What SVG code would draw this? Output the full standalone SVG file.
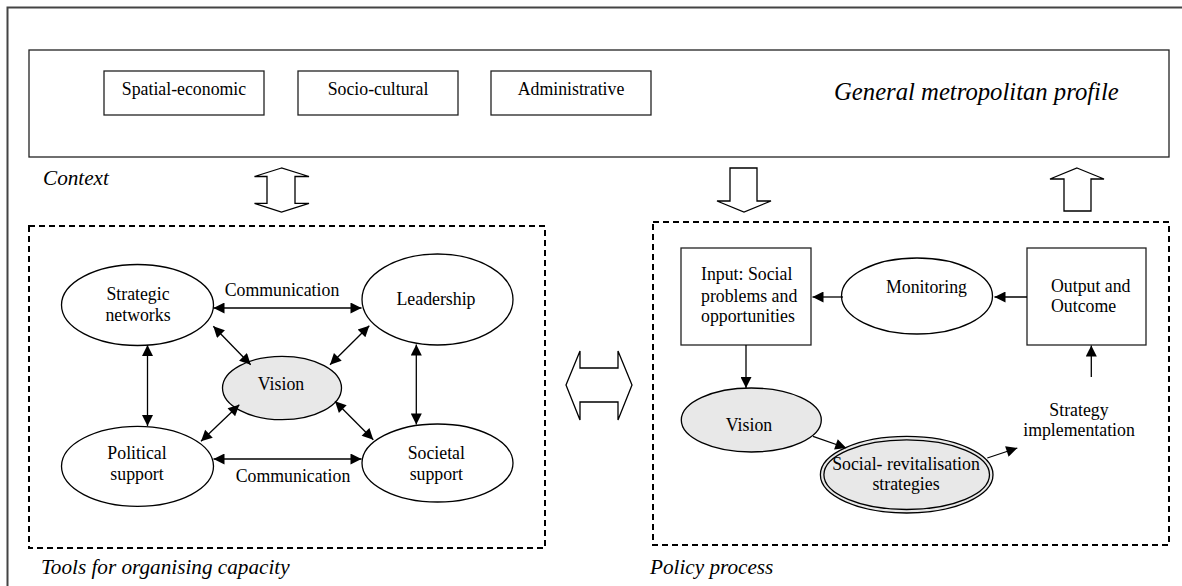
<svg xmlns="http://www.w3.org/2000/svg" width="1182" height="586" viewBox="0 0 1182 586">
<defs>
<marker id="ah" viewBox="0 0 10 10" refX="10" refY="5" markerWidth="13" markerHeight="11" markerUnits="userSpaceOnUse" orient="auto-start-reverse"><path d="M0,0 L10,5 L0,10 z" fill="#000"/></marker>
<style>
text{font-family:'Liberation Serif',Tinos,'Times New Roman',Times,'DejaVu Serif',serif;fill:#000}
.t{font-size:17.8px}
.c{text-anchor:middle}
.i{font-style:italic;font-size:21.2px}
.box{fill:#fff;stroke:#222;stroke-width:1.3}
.nd{fill:#fff;stroke:#000;stroke-width:1.3}
.gr{fill:#e8e8e8;stroke:#000;stroke-width:1.3}
.dash{fill:none;stroke:#000;stroke-width:2;stroke-dasharray:6 4}
.ln{fill:none;stroke:#000;stroke-width:1.3}
.hol{fill:#fff;stroke:#000;stroke-width:1.3;stroke-linejoin:miter}
</style>
</defs>
<rect width="1182" height="586" fill="#fff"/>
<path d="M7.5,586 V7.5 H1182" fill="none" stroke="#444" stroke-width="2"/>

<g id="profile">
<rect class="box" x="29" y="50" width="1140" height="107"/>
<text class="i" x="834" y="100" font-family="Liberation Serif, serif" style="font-size:24.7px">General metropolitan profile</text>
</g>
<g id="spatial"><rect class="box" x="104" y="71" width="160" height="44"/><text class="t c" x="184" y="95" font-family="Liberation Serif, serif">Spatial-economic</text></g>
<g id="sociocultural"><rect class="box" x="298" y="71" width="160" height="44"/><text class="t c" x="378" y="95">Socio-cultural</text></g>
<g id="administrative"><rect class="box" x="491" y="71" width="160" height="44"/><text class="t c" x="571" y="95">Administrative</text></g>
<text class="i" x="43" y="185">Context</text>

<g id="tools">
<rect class="dash" x="29" y="226" width="516" height="322"/>
<text class="i" x="41" y="574">Tools for organising capacity</text>
</g>
<g id="policy">
<rect class="dash" x="653" y="222" width="516" height="323"/>
<text class="i" x="650" y="574">Policy process</text>
</g>

<g id="hollow-arrows">
<polygon class="hol" points="281.5,168 254.5,176.5 267,176.5 267,203.3 254.5,203.3 281.5,212 309,203.3 295,203.3 295,176.5 309,176.5"/>
<polygon class="hol" points="730,168 757,168 757,201 771,201 744,212 717,201 730,201"/>
<polygon class="hol" points="1077,168 1104,179 1091,179 1091,211 1064,211 1064,179 1050,179"/>
<polygon class="hol" points="566,385 580,351 580,368 618,368 618,351 632,385 618,420 618,402 580,402 580,420"/>
</g>

<g id="strategic-networks"><ellipse class="nd" cx="137.5" cy="305" rx="76" ry="40.5"/><text class="t c" x="138" y="300">Strategic</text><text class="t c" x="138" y="320.5">networks</text></g>
<g id="leadership"><ellipse class="nd" cx="437.5" cy="299.5" rx="75.5" ry="45.5"/><text class="t c" x="436" y="305">Leadership</text></g>
<g id="vision-left"><ellipse class="gr" cx="282" cy="388" rx="59.5" ry="31.7"/><text class="t c" x="281" y="390">Vision</text></g>
<g id="political-support"><ellipse class="nd" cx="137.5" cy="466.3" rx="76" ry="40"/><text class="t c" x="137" y="458.7">Political</text><text class="t c" x="137" y="479.7">support</text></g>
<g id="societal-support"><ellipse class="nd" cx="437.5" cy="463" rx="75.5" ry="39"/><text class="t c" x="436.3" y="458.7">Societal</text><text class="t c" x="436.3" y="479.7">support</text></g>
<text class="t c" x="282" y="296">Communication</text>
<text class="t c" x="293" y="482.3">Communication</text>

<g id="input"><rect class="box" x="681" y="248" width="130" height="97"/><text class="t" x="701" y="280">Input: Social</text><text class="t" x="701" y="301.5">problems and</text><text class="t" x="701" y="322">opportunities</text></g>
<g id="monitoring"><ellipse class="nd" cx="917" cy="296" rx="75.5" ry="38"/><text class="t c" x="926.5" y="293">Monitoring</text></g>
<g id="output"><rect class="box" x="1027" y="248" width="119" height="97"/><text class="t" x="1051" y="291.7">Output and</text><text class="t" x="1051" y="311.7">Outcome</text></g>
<g id="vision-right"><ellipse class="gr" cx="751.3" cy="420" rx="70" ry="32"/><text class="t c" x="749" y="430.7">Vision</text></g>
<g id="social-revitalisation"><ellipse class="gr" cx="906.7" cy="474.7" rx="86.3" ry="38.3"/><ellipse fill="none" stroke="#000" stroke-width="1.3" cx="906.7" cy="474.7" rx="82.8" ry="34.8"/><text class="t c" x="906" y="469.7">Social- revitalisation</text><text class="t c" x="906" y="490">strategies</text></g>
<g id="strategy-implementation"><text class="t c" x="1079" y="416.3">Strategy</text><text class="t c" x="1079" y="436.3">implementation</text></g>

<g id="connectors">
<line class="ln" x1="213.5" y1="308" x2="361.5" y2="308" marker-start="url(#ah)" marker-end="url(#ah)"/>
<line class="ln" x1="213.5" y1="459" x2="361.5" y2="459" marker-start="url(#ah)" marker-end="url(#ah)"/>
<line class="ln" x1="147.5" y1="345" x2="147.5" y2="426" marker-start="url(#ah)" marker-end="url(#ah)"/>
<line class="ln" x1="416.3" y1="344.5" x2="416.3" y2="424.5" marker-start="url(#ah)" marker-end="url(#ah)"/>
<line class="ln" x1="213.3" y1="326.3" x2="250.7" y2="364.7" marker-start="url(#ah)" marker-end="url(#ah)"/>
<line class="ln" x1="369.3" y1="325.7" x2="330" y2="364.7" marker-start="url(#ah)" marker-end="url(#ah)"/>
<line class="ln" x1="239.3" y1="404.7" x2="201" y2="441.3" marker-start="url(#ah)" marker-end="url(#ah)"/>
<line class="ln" x1="335" y1="401.3" x2="373.3" y2="439.7" marker-start="url(#ah)" marker-end="url(#ah)"/>
<line class="ln" x1="843" y1="297" x2="812.5" y2="297" marker-end="url(#ah)"/>
<line class="ln" x1="1027" y1="297" x2="994.5" y2="297" marker-end="url(#ah)"/>
<line class="ln" x1="746" y1="345" x2="746" y2="388" marker-end="url(#ah)"/>
<line class="ln" x1="813" y1="436.3" x2="846.3" y2="448" marker-end="url(#ah)"/>
<line class="ln" x1="987.3" y1="458" x2="1017.3" y2="448" marker-end="url(#ah)"/>
<line class="ln" x1="1091.3" y1="377" x2="1091.3" y2="345.5" marker-end="url(#ah)"/>
</g>
</svg>
